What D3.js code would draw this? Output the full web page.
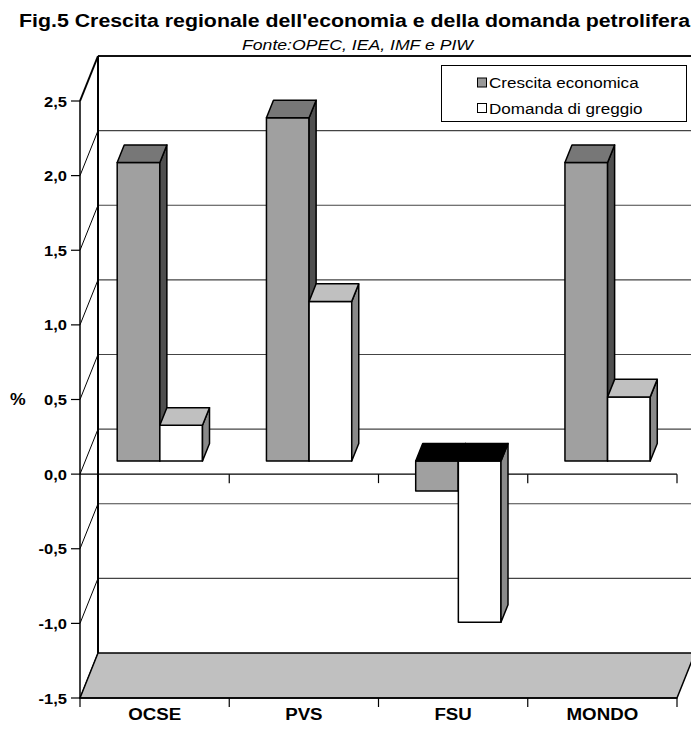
<!DOCTYPE html>
<html>
<head>
<meta charset="utf-8">
<script src="https://cdn.jsdelivr.net/npm/d3@7"></script>
<style>
  body { margin: 0; background: #fff; }
  svg { display: block; font-family: Arial, "Liberation Sans", sans-serif; }
</style>
</head>
<body>
<svg id="chart" width="691" height="733"></svg>
<script>
const categories = ["OCSE", "PVS", "FSU", "MONDO"];
const seriesNames = ["Crescita economica", "Domanda di greggio"];
const crescita = [2.0, 2.3, -0.2, 2.0];
const domanda = [0.24, 1.07, -1.08, 0.43];
const yTicks = [-1.5, -1.0, -0.5, 0.0, 0.5, 1.0, 1.5, 2.0, 2.5];

const svg = d3.select("#chart");
const stretch = 1.1; // text in the picture is a bit wider than Arial

const y = d3.scaleLinear().domain([-1.5, 2.5]).range([698, 101]);
const x = d3.scaleBand().domain(categories).range([80, 677]);
const xs = d3.scaleBand().domain([0, 1]).range([0, x.bandwidth()]).paddingOuter(0.75);

// depth of the 3d box: full wall offset
const DX = 18, DY = 45;
const f1 = 0.29, f2 = 0.68;
const proj = (u, v, f) => [u + DX * f, y(v) - DY * f];
const line = d3.line();

const fmt = v => d3.format(".1f")(v).replace(".", ",").replace("−", "-");

function label(g, txt, px, py, opts) {
  return g.append("text")
    .attr("transform", `translate(${px},${py}) scale(${stretch},1)`)
    .attr("text-anchor", opts.anchor || "start")
    .style("font-size", opts.size + "px")
    .style("font-weight", opts.bold ? "bold" : "normal")
    .style("font-style", opts.italic ? "italic" : "normal")
    .text(txt);
}

// back wall gridlines
const walls = svg.append("g");
yTicks.filter(t => t > -1.5 && t < 2.5).forEach(t => {
  walls.append("path")
    .attr("d", line([proj(x.range()[0], t, 1), proj(x.range()[1], t, 1)]))
    .attr("stroke", "#444").attr("stroke-width", 1.2).attr("fill", "none");
});
// top edge of back wall
walls.append("path")
  .attr("d", line([proj(80, 2.5, 1), proj(677, 2.5, 1)]))
  .attr("stroke", "#111").attr("stroke-width", 2).attr("fill", "none");
// side wall diagonals
yTicks.forEach(t => {
  walls.append("path")
    .attr("d", line([proj(80, t, 0), proj(80, t, 1)]))
    .attr("stroke", "#000").attr("stroke-width", t === 2.5 ? 2 : 1).attr("fill", "none");
});
// back vertical edge
walls.append("path")
  .attr("d", line([proj(80, 2.5, 1), proj(80, -1.5, 1)]))
  .attr("stroke", "#000").attr("stroke-width", 2).attr("fill", "none");

// floor
svg.append("path")
  .attr("d", line([proj(80, -1.5, 0), proj(677, -1.5, 0), proj(677, -1.5, 1), proj(80, -1.5, 1)]) + "Z")
  .attr("fill", "#c0c0c0").attr("stroke", "#000").attr("stroke-width", 1.5);

// category axis crossing at zero (front), drawn behind the bars
const axisG = svg.append("g");
axisG.append("path").attr("d", line([[80, y(0)], [677, y(0)]]))
  .attr("stroke", "#000").attr("stroke-width", 1.2);
const bounds = [80, 80 + x.step(), 80 + 2 * x.step(), 80 + 3 * x.step(), 677];
bounds.slice(1).forEach(b => {
  axisG.append("path").attr("d", line([[b, y(0)], [b, y(0) + 9]]))
    .attr("stroke", "#000").attr("stroke-width", 1.2);
});
// bottom axis
axisG.append("path").attr("d", line([[80, y(-1.5)], [677, y(-1.5)]]))
  .attr("stroke", "#000").attr("stroke-width", 1.5);
bounds.forEach(b => {
  axisG.append("path").attr("d", line([[b, y(-1.5)], [b, y(-1.5) + 9]]))
    .attr("stroke", "#000").attr("stroke-width", 1.2);
});
// value axis
axisG.append("path").attr("d", line([[80, y(2.5)], [80, y(-1.5)]]))
  .attr("stroke", "#000").attr("stroke-width", 1.5);
yTicks.forEach(t => {
  axisG.append("path").attr("d", line([[71, y(t)], [80, y(t)]]))
    .attr("stroke", "#000").attr("stroke-width", 1.2);
  label(axisG, fmt(t), 67, y(t) + 5.5, { anchor: "end", size: 15, bold: true });
});
label(axisG, "%", 10, y(0.5) + 5.5, { size: 16, bold: true });

// bars
const series = [
  { values: crescita, front: "#a0a0a0", top: "#777777", side: "#4f4f4f" },
  { values: domanda, front: "#ffffff", top: "#c0c0c0", side: "#8a8a8a" }
];
const bars = svg.append("g").attr("stroke", "#000").attr("stroke-width", 1.5).attr("stroke-linejoin", "round");
categories.forEach((c, i) => {
  series.forEach((s, j) => {
    const v = s.values[i];
    const u0 = x(c) + xs(j), u1 = u0 + xs.bandwidth();
    const hi = Math.max(v, 0), lo = Math.min(v, 0);
    // front face
    bars.append("path")
      .attr("d", line([proj(u0, hi, f1), proj(u1, hi, f1), proj(u1, lo, f1), proj(u0, lo, f1)]) + "Z")
      .attr("fill", s.front);
    // right side face
    bars.append("path")
      .attr("d", line([proj(u1, hi, f1), proj(u1, hi, f2), proj(u1, lo, f2), proj(u1, lo, f1)]) + "Z")
      .attr("fill", s.side);
    // top face
    bars.append("path")
      .attr("d", line([proj(u0, hi, f1), proj(u1, hi, f1), proj(u1, hi, f2), proj(u0, hi, f2)]) + "Z")
      .attr("fill", v < 0 ? "#000" : s.top);
  });
});

// category labels
categories.forEach(c => {
  label(svg, c, x(c) + x.bandwidth() / 2, 720, { anchor: "middle", size: 17, bold: true });
});

// legend
const legend = svg.append("g");
legend.append("rect").attr("x", 441.5).attr("y", 65.5).attr("width", 245).attr("height", 56)
  .attr("fill", "#fff").attr("stroke", "#000").attr("stroke-width", 1);
seriesNames.forEach((n, j) => {
  const cy = 82.5 + j * 25.5;
  legend.append("rect").attr("x", 477.5).attr("y", cy - 4.5).attr("width", 9).attr("height", 9)
    .attr("fill", series[j].front === "#ffffff" ? "#fff" : "#999").attr("stroke", "#000").attr("stroke-width", 1);
  label(legend, n, 489, cy + 5.5, { size: 15.5 });
});

// titles
svg.append("text")
  .attr("x", 19).attr("y", 27)
  .attr("textLength", 671).attr("lengthAdjust", "spacingAndGlyphs")
  .style("font-size", "18px").style("font-weight", "bold")
  .text("Fig.5 Crescita regionale dell'economia e della domanda petrolifera");
svg.append("text")
  .attr("x", 242).attr("y", 50)
  .attr("textLength", 231).attr("lengthAdjust", "spacingAndGlyphs")
  .style("font-size", "15.5px").style("font-style", "italic")
  .text("Fonte:OPEC, IEA, IMF e PIW");
</script>
</body>
</html>
